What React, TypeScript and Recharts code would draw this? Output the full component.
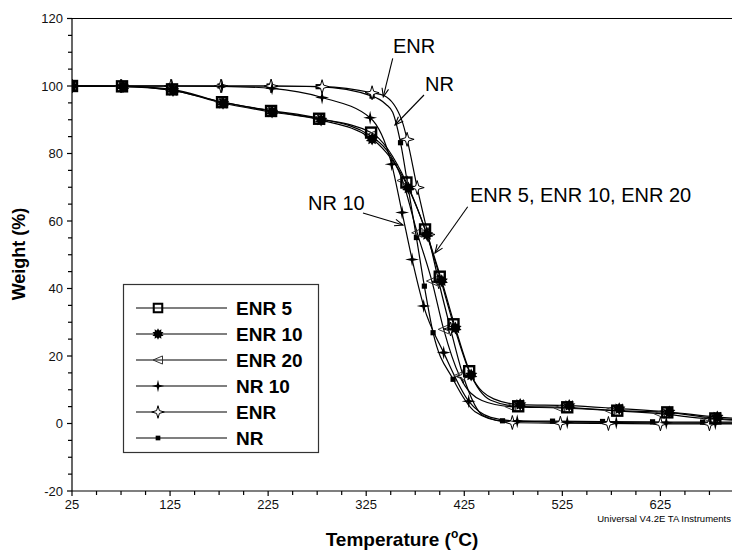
import { ComposedChart, Line, Scatter, XAxis, YAxis, ReferenceLine } from 'recharts';

type Pt = [number, number];

// tick marks (minor every 25 °C / 5 %), labels only on the majors
const X_TICKS = [25, 50, 75, 100, 125, 150, 175, 200, 225, 250, 275, 300, 325, 350, 375, 400, 425, 450, 475, 500, 525, 550, 575, 600, 625, 650, 675];
const X_LABELS = [25, 125, 225, 325, 425, 525, 625];
const Y_TICKS = [-20, -15, -10, -5, 0, 5, 10, 15, 20, 25, 30, 35, 40, 45, 50, 55, 60, 65, 70, 75, 80, 85, 90, 95, 100, 105, 110, 115, 120];
const Y_LABELS = [-20, 0, 20, 40, 60, 80, 100, 120];

// [temperature °C, weight %] at the plotted symbols
const ENR5_MARKS: Pt[] = [[25, 100], [76, 99.9], [127, 99.0], [178, 95.2], [228, 92.6], [277, 90.3], [330, 86.2], [366, 71.4], [385, 57.5], [400, 43.5], [414, 29.4], [430, 15.5], [480, 5.1], [530, 4.8], [581, 3.8], [632, 3.3], [681, 1.5]];
const ENR10_MARKS: Pt[] = [[25, 100], [77, 99.8], [128, 98.7], [179, 94.9], [229, 92.3], [279, 89.9], [331, 84.3], [368, 69.8], [387, 56], [402, 42.3], [416, 28.3], [432, 14.4], [482, 5.6], [532, 5.3], [583, 4.4], [634, 3.4], [683, 1.9]];
const ENR20_MARKS: Pt[] = [[25, 100], [75, 99.9], [126, 98.8], [176, 95.4], [226, 92.8], [276, 90.5], [329, 85.3], [362, 72], [377, 56.5], [392, 42.2], [404, 27.9], [420, 14.2], [472, 5], [522, 4.6], [573, 3.9], [624, 2.9], [674, 1.4]];
const NR10_MARKS: Pt[] = [[25, 100], [76, 100], [127, 100], [178, 99.9], [229, 99.3], [280, 96.6], [329, 90.6], [351, 76.8], [361.6, 62.5], [371.8, 48.6], [383.6, 34.8], [404, 21], [429.5, 6.6], [479, 0.7], [530, 0.4], [580, 0.3], [631, 0.2], [681, 0.1]];
const ENR_MARKS: Pt[] = [[25, 100], [75, 100], [126, 100], [177, 100], [228, 100], [280, 99.8], [331, 98], [366.7, 84.2], [377, 69.9], [388, 56], [399, 42], [411, 28], [424, 14], [474, 0.3], [523, 0.1], [572, 0], [625, -0.1], [675, -0.1]];
const NR_MARKS: Pt[] = [[25, 100], [75, 100], [125, 100], [176, 100], [226, 100], [276, 99.8], [331, 97], [360, 83.2], [376.2, 55.1], [384.3, 40.7], [393.2, 26.9], [413.6, 13.1], [464, 0.8], [515, 0.7], [566, 0.6], [617, 0.5], [668, 0.4]];

const ENR5_KNOTS: Pt[] = [[452, 6.9], [698, 1.2]];
const ENR10_KNOTS: Pt[] = [[455, 7.3], [698, 1.6]];
const ENR20_KNOTS: Pt[] = [[443, 6.8], [698, 1.0]];
const NR10_KNOTS: Pt[] = [[452, 1.8], [698, 0.1]];
const ENR_KNOTS: Pt[] = [[343, 97.2], [361.6, 89.6], [445, 2.2], [698, -0.1]];
const NR_KNOTS: Pt[] = [[345, 94.6], [352, 92.2], [368, 69.5], [436, 3.5], [698, 0.4]];

const toRows = (a: Pt[]) => a.map(([t, w]) => ({ t, w }));
const curve = (m: Pt[], k: Pt[]) => toRows([...m, ...k].sort((a, b) => a[0] - b[0]));

const SERIES = [
  { name: 'NR', marks: NR_MARKS, knots: NR_KNOTS, kind: 'dot' },
  { name: 'ENR', marks: ENR_MARKS, knots: ENR_KNOTS, kind: 'ostar' },
  { name: 'NR 10', marks: NR10_MARKS, knots: NR10_KNOTS, kind: 'star' },
  { name: 'ENR 20', marks: ENR20_MARKS, knots: ENR20_KNOTS, kind: 'tri' },
  { name: 'ENR 10', marks: ENR10_MARKS, knots: ENR10_KNOTS, kind: 'gear' },
  { name: 'ENR 5', marks: ENR5_MARKS, knots: ENR5_KNOTS, kind: 'square' },
];
const LEGEND_ORDER = ['ENR 5', 'ENR 10', 'ENR 20', 'NR 10', 'ENR', 'NR'];

const FONT = '"Liberation Sans", Arial, sans-serif';

function starPoints(cx: number, cy: number, n: number, ro: number, ri: number, rot = -Math.PI / 2) {
  const pts: string[] = [];
  for (let i = 0; i < n * 2; i++) {
    const r = i % 2 === 0 ? ro : ri;
    const a = rot + (i * Math.PI) / n;
    pts.push(`${(cx + r * Math.cos(a)).toFixed(2)},${(cy + r * Math.sin(a)).toFixed(2)}`);
  }
  return pts.join(' ');
}

function Marker({ kind, cx, cy, s = 1 }: { kind: string; cx: number; cy: number; s?: number }) {
  if (cx == null || cy == null) return null;
  switch (kind) {
    case 'square': {
      const h = 5 * s;
      return <rect x={cx - h} y={cy - h} width={2 * h} height={2 * h} fill="none" stroke="#000" strokeWidth={2.4 * s} />;
    }
    case 'gear':
      return <polygon points={starPoints(cx, cy, 10, 6.5 * s, 4.2 * s)} fill="#000" />;
    case 'tri':
      return (
        <polygon
          points={`${cx - 5.5 * s},${cy} ${cx + 5 * s},${cy - 4.5 * s} ${cx + 5 * s},${cy + 4.5 * s}`}
          fill="none"
          stroke="#333"
          strokeWidth={1}
        />
      );
    case 'star':
      return <polygon points={starPoints(cx, cy, 4, 7 * s, 1.8 * s)} fill="#000" />;
    case 'ostar':
      return <polygon points={starPoints(cx, cy, 4, 7 * s, 2.2 * s)} fill="#fff" stroke="#000" strokeWidth={1} />;
    default:
      return <rect x={cx - 2.6 * s} y={cy - 2.6 * s} width={5.2 * s} height={5.2 * s} fill="#000" />;
  }
}

function XTick({ x, y, payload }: any) {
  const v = payload.value;
  const major = X_LABELS.includes(v);
  return (
    <g>
      <line x1={x} y1={y} x2={x} y2={y + (major ? 5 : 4)} stroke="#000" strokeWidth={1.2} />
      {major && (
        <text x={x} y={y + 18} textAnchor="middle" fontSize={13} fontFamily={FONT} fill="#111">
          {v}
        </text>
      )}
    </g>
  );
}

function YTick({ x, y, payload }: any) {
  const v = payload.value;
  const major = Y_LABELS.includes(v);
  return (
    <g>
      <line x1={x - (major ? 5 : 4)} y1={y} x2={x} y2={y} stroke="#000" strokeWidth={1.2} />
      {major && (
        <text x={x - 9} y={y + 4.7} textAnchor="end" fontSize={13} fontFamily={FONT} fill="#111">
          {v}
        </text>
      )}
    </g>
  );
}

function Arrow({ x1, y1, x2, y2 }: { x1: number; y1: number; x2: number; y2: number }) {
  const a = Math.atan2(y2 - y1, x2 - x1);
  const L = 9;
  const d = 0.38;
  const hx1 = x2 - L * Math.cos(a - d);
  const hy1 = y2 - L * Math.sin(a - d);
  const hx2 = x2 - L * Math.cos(a + d);
  const hy2 = y2 - L * Math.sin(a + d);
  return (
    <g stroke="#000" strokeWidth={1.1} fill="none">
      <line x1={x1} y1={y1} x2={x2} y2={y2} />
      <polyline points={`${hx1},${hy1} ${x2},${y2} ${hx2},${hy2}`} />
    </g>
  );
}

export default function App() {
  const legendRows = LEGEND_ORDER.map((n) => SERIES.find((s) => s.name === n)!);

  return (
    <div style={{ position: 'absolute', left: 0, top: 0, width: 732, height: 550, background: '#fff', fontFamily: FONT }}>
      <ComposedChart width={732} height={550} margin={{ top: 18.5, right: 0, bottom: 58, left: 71 }}>
        <XAxis
          type="number"
          dataKey="t"
          domain={[25, 698]}
          allowDataOverflow
          ticks={X_TICKS}
          interval={0}
          tick={<XTick />}
          tickLine={false}
          tickSize={0}
          tickMargin={0}
          height={1}
          axisLine={{ stroke: '#000', strokeWidth: 1.2 }}
        />
        <YAxis
          type="number"
          domain={[-20, 120]}
          allowDataOverflow
          ticks={Y_TICKS}
          interval={0}
          tick={<YTick />}
          tickLine={false}
          tickSize={0}
          tickMargin={0}
          width={1}
          axisLine={{ stroke: '#000', strokeWidth: 1.2 }}
        />
        <ReferenceLine y={120} stroke="#000" strokeWidth={1.2} />
        {SERIES.map((s) => (
          <Line
            key={'l' + s.name}
            data={curve(s.marks, s.knots)}
            dataKey="w"
            type="monotone"
            stroke="#000"
            strokeWidth={1.2}
            dot={false}
            activeDot={false}
            isAnimationActive={false}
          />
        ))}
        {SERIES.map((s) => (
          <Scatter
            key={'m' + s.name}
            data={toRows(s.marks)}
            dataKey="w"
            isAnimationActive={false}
            shape={(p: any) => <Marker kind={s.kind} cx={p.cx} cy={p.cy} />}
          />
        ))}
      </ComposedChart>

      <svg width={732} height={550} style={{ position: 'absolute', left: 0, top: 0, pointerEvents: 'none' }}>
        {/* axis titles */}
        <text
          x={0}
          y={0}
          transform="translate(25,254) rotate(-90)"
          textAnchor="middle"
          fontSize={18}
          fontWeight="bold"
          fontFamily={FONT}
        >
          Weight (%)
        </text>
        <text x={402} y={546} textAnchor="middle" fontSize={19} fontWeight="bold" fontFamily={FONT}>
          Temperature (<tspan fontSize={12} dy={-8}>o</tspan>
          <tspan dy={8}>C)</tspan>
        </text>
        <text x={731} y={522} textAnchor="end" fontSize={9.5} fontFamily={FONT}>
          Universal V4.2E TA Instruments
        </text>

        {/* annotations */}
        <text x={393} y={53} fontSize={20} fontFamily={FONT}>ENR</text>
        <Arrow x1={392.7} y1={58.3} x2={383.3} y2={96.7} />
        <text x={425} y={91} fontSize={20} fontFamily={FONT}>NR</text>
        <Arrow x1={424} y1={95} x2={395} y2={125} />
        <text x={308} y={210} fontSize={20} fontFamily={FONT}>NR 10</text>
        <Arrow x1={363} y1={213} x2={403} y2={225} />
        <text x={470} y={202} fontSize={20} fontFamily={FONT}>ENR 5, ENR 10, ENR 20</text>
        <Arrow x1={467.7} y1={206.7} x2={435} y2={253} />

        {/* legend */}
        <rect x={123.5} y={284.5} width={195} height={168} fill="#fff" stroke="#333" strokeWidth={1.2} />
        {legendRows.map((s, i) => {
          const y = 308 + i * 26;
          return (
            <g key={s.name}>
              <line x1={136} y1={y} x2={227} y2={y} stroke="#000" strokeWidth={1.2} />
              <Marker kind={s.kind} cx={158} cy={y} s={s.kind === 'square' ? 0.85 : 0.9} />
              <text x={236} y={y + 7} fontSize={19} fontWeight="bold" fontFamily={FONT}>
                {s.name}
              </text>
            </g>
          );
        })}
      </svg>
    </div>
  );
}
